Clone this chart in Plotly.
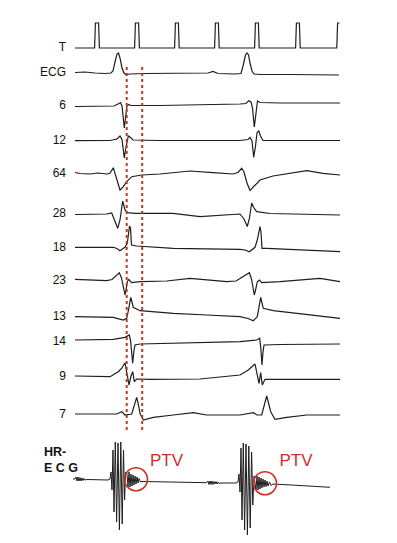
import plotly.graph_objects as go

# ---------------- data (time in px-like units, deflection positive = up) -------------
channel_labels = ["T", "ECG", "6", "12", "64", "28", "18", "23", "13", "14", "9", "7"]
channel_base = [48, 73, 106, 140.5, 174, 213.5, 247.5, 281, 317, 342, 377, 415]

t_x = [75, 94.6, 95.4, 98.6, 99.4, 134.6, 135.4, 138.6, 139.4, 174.6, 175.4, 178.4, 179.2,
       214.6, 215.4, 218.4, 219.2, 254.6, 255.4, 258.4, 259.2, 295.6, 296.4, 299.4, 300.2,
       336.8, 337.6, 339.5]
t_v = [0, 0, 25, 25, 0, 0, 25, 25, 0, 0, 25, 25, 0,
       0, 25, 25, 0, 0, 25, 25, 0, 0, 25, 25, 0,
       0, 25, 25]

ecg_x = [75, 85, 95, 105, 111, 113, 115, 117, 118.5, 120, 122, 124, 126, 130, 145, 170, 190, 208,
         213, 218, 235, 241, 243, 245.5, 247, 248.5, 250, 252, 254, 260, 290, 339]
ecg_v = [0.5, 1, 0, -0.5, 0, 2, 11, 19, 20, 15, 5, 0, -1.5, -1, -0.5, -0.5, 0, 0,
         1.5, -0.5, -1, -0.5, 7, 18, 20, 18, 10, 2, -1, -1.5, -1.5, -2]

ch6_x = [75, 100, 114, 118, 120.5, 122, 123, 124.3, 125.5, 127, 128.5, 131, 160, 200, 240, 246,
         248.7, 251, 252.5, 254.3, 256, 257.5, 260, 280, 340]
ch6_v = [-0.5, -0.5, 0, 2, 3.5, 0, -9, -22, -12, 0, 1.5, 0.5, 0.5, 1, 2, 2.5,
         5.3, 4, -2, -21, -6, 5, 3.5, 3, 3]

ch12_x = [75, 110, 117, 120, 122, 123.2, 124.3, 125.5, 127, 128.3, 130, 133, 160, 240, 248, 250,
          252, 253.7, 255.5, 257, 258.7, 260.5, 263, 340]
ch12_v = [-0.2, 0, 1.5, 4.5, 1, -7.5, -17.5, -9.5, 0.5, 4.5, 3.5, 0.5, 0, 0, 1, 3,
          -0.5, -16.8, -5.5, 7.5, 9.8, 4.5, 0, 0]

ch64_x = [75, 80, 90, 98, 106.7, 110, 113.3, 115.7, 118, 120, 123.3, 126.7, 131.7, 141.7, 160,
          190, 213, 233, 238, 241.7, 244, 247, 250, 254, 260, 273, 290, 306.7, 323, 340]
ch64_v = [1.5, 0.5, 0, 1, 0, 0.7, 6.3, -1, -10, -16, -12.7, -7.7, -2.7, -1, 0,
          3, 1.3, 0, 1.5, 5.7, 2, -9, -16.5, -12, -6, -2, 1, 3.3, 0.7, -1]

ch28_x = [75, 106.7, 111.7, 114.5, 117.7, 120, 122.7, 125, 127.3, 135, 173, 200, 226.7, 240,
          244, 247.3, 249.5, 251.7, 254, 256.7, 270, 300, 340]
ch28_v = [-1, -0.5, 0.5, -6.5, -14.8, -6.5, 12.3, 3.5, 0.8, 0.2, 0.2, -3.2, -1.5, -0.5,
          -5.5, -13, -4.5, 10.5, 5.5, 1.8, 0, -0.5, -1.5]

ch18_x = [75, 113.3, 117, 120, 123, 125, 127.3, 128.5, 129.5, 130.5, 131.5, 136.7, 173.3, 240,
          245, 249.3, 253, 255, 257.3, 259, 260, 261, 262, 266.7, 300, 340]
ch18_v = [0.2, 0.2, -1, -3.2, -1, 0.2, 4.2, 14.5, 21.5, 19.5, 2.5, 1.5, -0.8, -1.8,
          -2.5, -4.2, -1.5, 0.2, 7.5, 18.5, 20.8, 15.5, -0.8, -0.8, -2.5, -4.2]

ch23_x = [75, 106.7, 112, 115, 119.3, 121.5, 123.3, 125, 126.3, 127.3, 128.8, 131.7, 140, 166.7,
          190, 226.7, 236, 243, 249.3, 251.5, 254.3, 256, 257.3, 259.3, 261.7, 280, 320, 340]
ch23_v = [1.7, 0.3, 1.5, 4.3, 8.3, 3, -5.7, -14, -7, -0.7, 1.5, -1.7, -0.7, 0,
          2.7, -0.7, 0, 4, 8.3, 2, -14, -7, -0.7, 1, -1.7, -0.7, 2.7, -0.7]

ch13_x = [75, 113.3, 123.3, 126.7, 128.5, 130.7, 132, 133.3, 140, 173.3, 206.7, 240, 248, 253.3,
          257.3, 259, 260.7, 262, 263.3, 273.3, 300, 340]
ch13_v = [0.3, -0.3, -3, -1.3, 7, 19.7, 15, 9.7, 6.3, 3.7, 2, 0.3, -1.5, -3.7,
          0.3, 11, 19.7, 14, 8.7, 6.3, 3, -1.3]

ch14_x = [75, 113.3, 125, 129.3, 130.5, 131.5, 132.7, 133.8, 135, 140, 200, 240, 256.7, 259.7,
          260.8, 262, 263, 264, 280, 340]
ch14_v = [2, 2.7, 4.7, 7, 2, -13, -21.3, -10, -3, -2, -1, 0.3, 2, 3.7,
          -6, -23, -10, -3, -2.5, -2]

ch9_x = [75, 110, 118.3, 122, 125, 126.5, 128, 129, 131, 132.7, 134.3, 136.7, 150, 200, 240,
         248.3, 255, 257, 259, 260.7, 262.3, 265, 300, 340]
ch9_v = [1, 0.3, 5.3, 9, 14.3, 5, -3, -8, 1, 5.3, -4.7, -2, -2.3, -2, 2,
         7, 13, 3, -6.3, 4.3, -8, -2.3, -2.5, -2.3]

ch7_x = [75, 116.7, 121.7, 125, 131.7, 134.5, 136.7, 138.5, 140, 143.3, 153.3, 173.3, 193.3,
         206.7, 240, 253.3, 257, 261.7, 264.5, 266.7, 268.5, 270.7, 275, 286.7, 306.7, 340]
ch7_v = [1, 1, 3.3, 0, 1, 12, 17.7, 10, 1.7, -5, -2.3, 0, 2.3,
         0, 0, 2.3, 0, 0, 12, 19, 12, 3.3, -4.3, -2.3, 0, 0]

hr_label = "<b>HR-<br>E C G</b>"
hr_base = 480
hr_x = [73, 75, 76, 77, 78, 79, 80, 81, 82, 83, 84, 85, 87, 108,
        110, 111, 112, 113, 114, 115.3, 116.6, 118, 119.4, 120.8, 122.2, 123.5, 124.6, 125.6,
        127, 128, 129, 130, 131, 132, 133, 134, 135, 136, 137, 138, 139, 140.5, 142,
        170, 206.7,
        208, 209, 210, 211, 212, 213, 214, 215, 216, 217, 218, 219, 221, 236,
        238, 239, 240, 241, 242, 243.3, 244.6, 246, 247.4, 248.8, 250.2, 251.6, 252.8, 254,
        256, 257, 258, 259, 260, 261, 262, 263, 264, 265, 266, 267, 268, 269.5, 271, 273,
        300, 330]
hr_v = [1, 1, 3, -1, 3, -1, 2.5, -1, 2, -0.5, 1.5, 0, 0.5, 0,
        1, 8, -10, 30, -32, 38, -42, 37, -50, 38, -44, 30, -20, 8,
        6, -7, 8, -7, 6, -6, 5, -5, 4, -4, 3, -3, 1.5, -2, -1.5,
        -2, -2.7,
        -1, -4.5, -1, -4.5, -1, -4.5, -1.5, -4, -1.5, -4, -2, -3.5, -3, -3,
        -2, 6, -12, 32, -40, 37, -50, 36, -55, 34, -48, 28, -25, 4,
        -10, 4, -10, 3, -9, 2, -8, 1, -7, 0, -6.5, -1, -6, -2, -5.5, -4,
        -5.5, -7.3]

ptv_text = ["PTV", "PTV"]
ptv_circle_x = [136, 265]
ptv_circle_y = [479.3, 483.3]
ptv_text_x = [166.5, 296]
ptv_text_y = [461.5, 461.5]

marker_x = [126.7, 142.2]       # dotted reference verticals
marker_y_range = [67, 432]

# ---------------- figure ----------------
series_x = [t_x, ecg_x, ch6_x, ch12_x, ch64_x, ch28_x, ch18_x, ch23_x, ch13_x, ch14_x, ch9_x, ch7_x]
series_v = [t_v, ecg_v, ch6_v, ch12_v, ch64_v, ch28_v, ch18_v, ch23_v, ch13_v, ch14_v, ch9_v, ch7_v]

INK = "#1e1e1e"
RED = "#cc3129"

fig = go.Figure()

for xs, vs, base in zip(series_x, series_v, channel_base):
    fig.add_trace(go.Scatter(
        x=xs, y=[base - v for v in vs], mode="lines",
        line=dict(color=INK, width=1.2), hoverinfo="skip", showlegend=False))

fig.add_trace(go.Scatter(
    x=hr_x, y=[hr_base - v for v in hr_v], mode="lines",
    line=dict(color=INK, width=1.0), hoverinfo="skip", showlegend=False))

# channel labels
fig.add_trace(go.Scatter(
    x=[66] * len(channel_labels), y=channel_base, mode="text",
    text=channel_labels, textposition="middle left",
    textfont=dict(family="Liberation Sans, Arial, sans-serif", size=12, color="#111111"),
    hoverinfo="skip", showlegend=False))

fig.add_trace(go.Scatter(
    x=[44], y=[461], mode="text", text=[hr_label], textposition="middle right",
    textfont=dict(family="Liberation Sans, Arial, sans-serif", size=12.5, color="#111111"),
    hoverinfo="skip", showlegend=False))

# dotted red verticals
for mx in marker_x:
    fig.add_trace(go.Scatter(
        x=[mx, mx], y=marker_y_range, mode="lines",
        line=dict(color=RED, width=2, dash="dot"), hoverinfo="skip", showlegend=False))

# PTV circles
fig.add_trace(go.Scatter(
    x=ptv_circle_x, y=ptv_circle_y, mode="markers",
    marker=dict(symbol="circle-open", size=23, color=RED, line=dict(width=1.6, color=RED)),
    hoverinfo="skip", showlegend=False))

# PTV text
fig.add_trace(go.Scatter(
    x=ptv_text_x, y=ptv_text_y, mode="text", text=ptv_text, textposition="middle center",
    textfont=dict(family="Liberation Sans, Arial, sans-serif", size=17, color=RED),
    hoverinfo="skip", showlegend=False))

fig.update_layout(
    width=397, height=543,
    margin=dict(l=0, r=0, t=0, b=0),
    paper_bgcolor="white", plot_bgcolor="white",
    xaxis=dict(range=[0, 397], visible=False, fixedrange=True),
    yaxis=dict(range=[543, 0], visible=False, fixedrange=True),
)

fig.write_html("out.html", config={"displayModeBar": False})
